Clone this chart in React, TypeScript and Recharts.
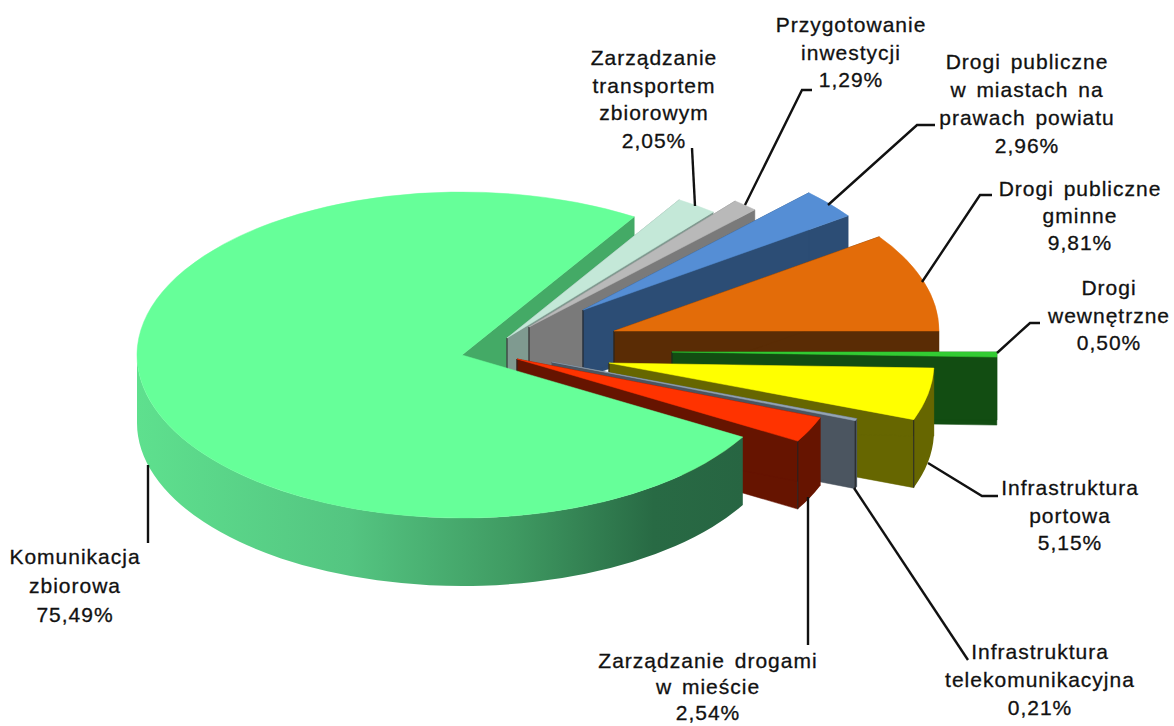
import React from 'react';
import { PieChart, Pie } from 'recharts';

// Data, in clockwise drawing order starting at the Komunikacja slice's far edge
const labelLines: string[][] = [
  ['Zarządzanie', 'transportem', 'zbiorowym'],
  ['Przygotowanie', 'inwestycji'],
  ['Drogi publiczne', 'w miastach na', 'prawach powiatu'],
  ['Drogi publiczne', 'gminne'],
  ['Drogi', 'wewnętrzne'],
  ['Infrastruktura', 'portowa'],
  ['Infrastruktura', 'telekomunikacyjna'],
  ['Zarządzanie drogami', 'w mieście'],
  ['Komunikacja', 'zbiorowa'],
];
const shares: number[] = [2.05, 1.29, 2.96, 9.81, 0.5, 5.15, 0.21, 2.54, 75.49];

const chartData = shares.map((value, i) => ({ name: labelLines[i].join(' '), value }));

// Styling / layout (separate from data)
const W = 1174, H = 726;
const CX = 462, CY = 355, RX = 325, SQUASH = 163 / 325, DEPTH = 68;
const MAIN = 8;
const SLATE = 6;
const topFill = ['#c4e8d8', '#b9b9b9', '#558ed5', '#e36c09', '#33cc33', '#ffff00', '#95a5b5', '#ff3300', '#66ff99'];
const sideFill = ['#7f9a90', '#7a7a7a', '#2c4d75', '#5a2c05', '#124d12', '#666600', '#4b5560', '#661400', 'url(#mainSide)'];
const wallFill = ['#7f9a90', '#7a7a7a', '#2c4d75', '#5a2c05', '#124d12', '#666600', '#4b5560', '#661400', '#44aa66'];
const explode: [number, number][] = [[45, -17], [67, -28], [121, -45], [152, -24], [210, -3], [147, 8], [90, 7], [55, 4], [0, 0]];
const labelCenterX = [654, 851, 1027, 1080, 1109, 1070, 1040, 708, 75];
const labelFirstY = [65, 32, 69, 196, 295, 495, 659, 668, 564];
const lineStep = [27.5, 27.5, 28, 27, 27.5, 27.5, 28, 26, 29];
const leaders: [number, number][][] = [
  [[695, 206], [692, 148]],
  [[745, 205], [802, 90], [812, 90]],
  [[828, 205], [917, 125], [935, 125]],
  [[922, 282], [980, 195], [992, 195]],
  [[997, 353], [1030, 323], [1040, 323]],
  [[928, 463], [982, 496], [998, 496]],
  [[854, 488], [968, 660]],
  [[808, 497], [808, 645]],
  [[148, 465], [148, 543]],
];

const rad = (d: number) => (d * Math.PI) / 180;

function geom(p: any, i: number) {
  const [ox, oy] = explode[i];
  const ax = p.cx + ox, ay = p.cy + oy;
  const pt = (deg: number): [number, number] => [
    ax + p.outerRadius * Math.cos(rad(deg)),
    ay - p.outerRadius * SQUASH * Math.sin(rad(deg)),
  ];
  return { ax, ay, pt, rx: p.outerRadius, ry: p.outerRadius * SQUASH, a0: Math.max(p.startAngle, p.endAngle), a1: Math.min(p.startAngle, p.endAngle) };
}

function wall(g: any, deg: number, fill: string) {
  const [x, y] = g.pt(deg);
  const d = `M${g.ax},${g.ay}L${x},${y}L${x},${y + DEPTH}L${g.ax},${g.ay + DEPTH}Z`;
  return <path d={d} fill={fill} stroke={fill} strokeWidth={0.5} />;
}

function outerSide(g: any, fill: string) {
  // visible part of the rim: the lower half of the ellipse
  const ranges: [number, number][] = [];
  const hi = g.a0, lo = g.a1;
  for (const [u, v] of [[0, -180], [-360, -540]] as [number, number][]) {
    const a = Math.min(hi, u), b = Math.max(lo, v);
    if (a > b) ranges.push([a, b]);
  }
  return ranges.map(([a, b], k) => {
    const [x0, y0] = g.pt(a);
    const [x1, y1] = g.pt(b);
    const large = a - b > 180 ? 1 : 0;
    const d = `M${x0},${y0}A${g.rx},${g.ry} 0 ${large} 1 ${x1},${y1}L${x1},${y1 + DEPTH}A${g.rx},${g.ry} 0 ${large} 0 ${x0},${y0 + DEPTH}Z`;
    return <path key={k} d={d} fill={fill} />;
  });
}

const edge = (x: number, y: number) => (
  <line x1={x} y1={y} x2={x} y2={y + DEPTH} stroke="#222" strokeWidth={1} />
);

const BackWallShape = (p: any, idx: number) => {
  const i = p.index ?? idx;
  if (i !== MAIN) return <g />;
  const g = geom(p, i);
  return <g>{wall(g, g.a1, wallFill[i])}</g>;
};

const BodyShape = (p: any, idx: number) => {
  const i = p.index ?? idx;
  const g = geom(p, i);
  const isWedge = i !== MAIN;
  return (
    <g>
      <defs>
        <linearGradient id="mainSide" gradientUnits="userSpaceOnUse" x1={137} y1={0} x2={745} y2={0}>
          <stop offset="0" stopColor="#5ee08e" />
          <stop offset="0.35" stopColor="#54c581" />
          <stop offset="0.62" stopColor="#3f9a62" />
          <stop offset="0.85" stopColor="#286a44" />
          <stop offset="1" stopColor="#276542" />
        </linearGradient>
      </defs>
      {isWedge && wall(g, g.a1, wallFill[i])}
      {isWedge && wall(g, g.a0, wallFill[i])}
      {outerSide(g, sideFill[i])}
      {isWedge && i !== SLATE && edge(g.ax, g.ay)}
      {isWedge && g.a1 < -5 && edge(...g.pt(g.a1))}
    </g>
  );
};

const TopShape = (p: any, idx: number) => {
  const i = p.index ?? idx;
  const g = geom(p, i);
  const [x0, y0] = g.pt(g.a0);
  const [x1, y1] = g.pt(g.a1);
  const large = g.a0 - g.a1 > 180 ? 1 : 0;
  const d = `M${g.ax},${g.ay}L${x0},${y0}A${g.rx},${g.ry} 0 ${large} 1 ${x1},${y1}Z`;
  return <path d={d} fill={topFill[i]} stroke={topFill[i]} strokeWidth={0.5} />;
};

const renderLabel = (p: any) => {
  const i = p.index;
  const value = shares[i].toFixed(2).replace('.', ',') + '%';
  const lines = [...labelLines[i], value];
  return (
    <g key={i}>
      <polyline
        points={leaders[i].map((q) => q.join(',')).join(' ')}
        fill="none"
        stroke="#111"
        strokeWidth={2.4}
      />
      <text
        x={labelCenterX[i]}
        y={labelFirstY[i]}
        textAnchor="middle"
        fontFamily="Liberation Sans, Arial, sans-serif"
        fontSize={21}
        fill="#111"
        stroke="#111"
        strokeWidth={0.3}
        style={{ letterSpacing: 1, wordSpacing: 3 }}
      >
        {lines.map((t, k) => (
          <tspan key={k} x={labelCenterX[i]} y={labelFirstY[i] + k * lineStep[i]}>
            {t}
          </tspan>
        ))}
      </text>
    </g>
  );
};

const common = {
  data: chartData,
  dataKey: 'value',
  nameKey: 'name',
  cx: CX,
  cy: CY,
  innerRadius: 0,
  outerRadius: RX,
  startAngle: 58,
  endAngle: -302,
  paddingAngle: 0,
  stroke: 'none',
  isAnimationActive: false,
  labelLine: false,
};

export default function App() {
  return (
    <div style={{ position: 'absolute', left: 0, top: 0, width: W, height: H, background: '#fff', overflow: 'hidden' }}>
      <PieChart width={W} height={H} margin={{ top: 0, right: 0, bottom: 0, left: 0 }}>
        <Pie {...common} shape={BackWallShape} />
        <Pie {...common} shape={BodyShape} />
        <Pie {...common} shape={TopShape} label={renderLabel} />
      </PieChart>
    </div>
  );
}
